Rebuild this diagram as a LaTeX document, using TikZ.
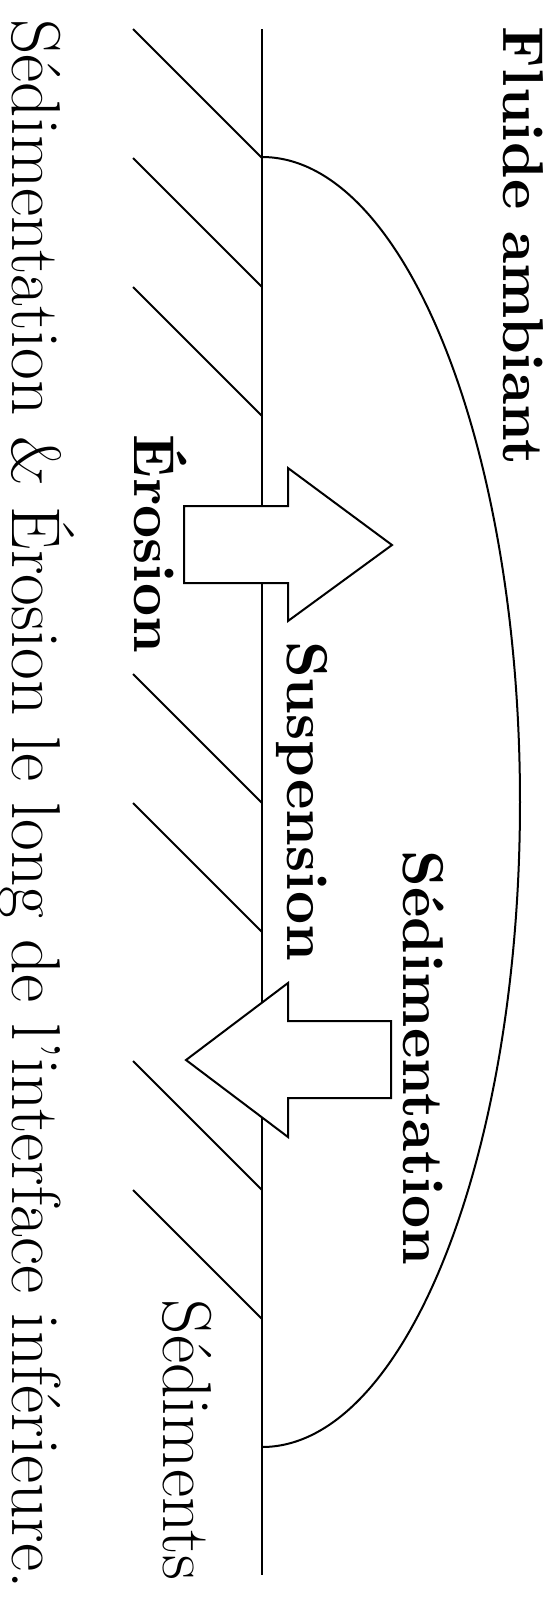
\documentclass[tikz,border=0pt]{standalone}
\usepackage{fontspec}
\newfontface\bxten{lmroman10-bold.otf}
\begin{document}
\begin{tikzpicture}[x=0.25pt,y=-0.25pt,
  ln/.style={line width=0.5pt},
  bigarrow/.style={line width=0.5pt,fill=white,line join=miter},
  lbl/.style={rotate=-90,inner sep=0pt,anchor=base,font={\fontsize{14.4}{17}\bxten}},
  rlbl/.style={rotate=-90,inner sep=0pt,anchor=base,font=\LARGE}]
\useasboundingbox (0,0) rectangle (556,1600);
% interface
\draw[ln] (262,29) -- (262,1575);
% hatching
\foreach \k in {0,1,2,5,6,8,9}{
  \draw[ln] (133,{29+129*\k}) -- (262,{158+129*\k});
}
% ambient fluid
\draw[ln] (262,157) arc[start angle=-90,end angle=90,x radius=258,y radius=645];
% arrows
\draw[bigarrow] (184,506) -- (288,506) -- (288,468) -- (392,545) -- (288,621) -- (288,583) -- (184,583) -- cycle;
\draw[bigarrow] (391,1021) -- (288,1021) -- (288,983) -- (186,1060) -- (288,1137) -- (288,1098) -- (391,1098) -- cycle;
% labels
\node[lbl] (fluide) at (503,246) {Fluide ambiant};
\node[lbl] (erosion) at (135,544) {Érosion};
\node[lbl] (susp) at (287,801) {Suspension};
\node[lbl] (sedim) at (403,1058) {Sédimentation};
\node[rlbl] (sedts) at (164,1440) {Sédiments};
\node[rlbl] (caption) at (12,804) {Sédimentation \& Érosion le long de l'interface inférieure.};
\end{tikzpicture}
\end{document}
